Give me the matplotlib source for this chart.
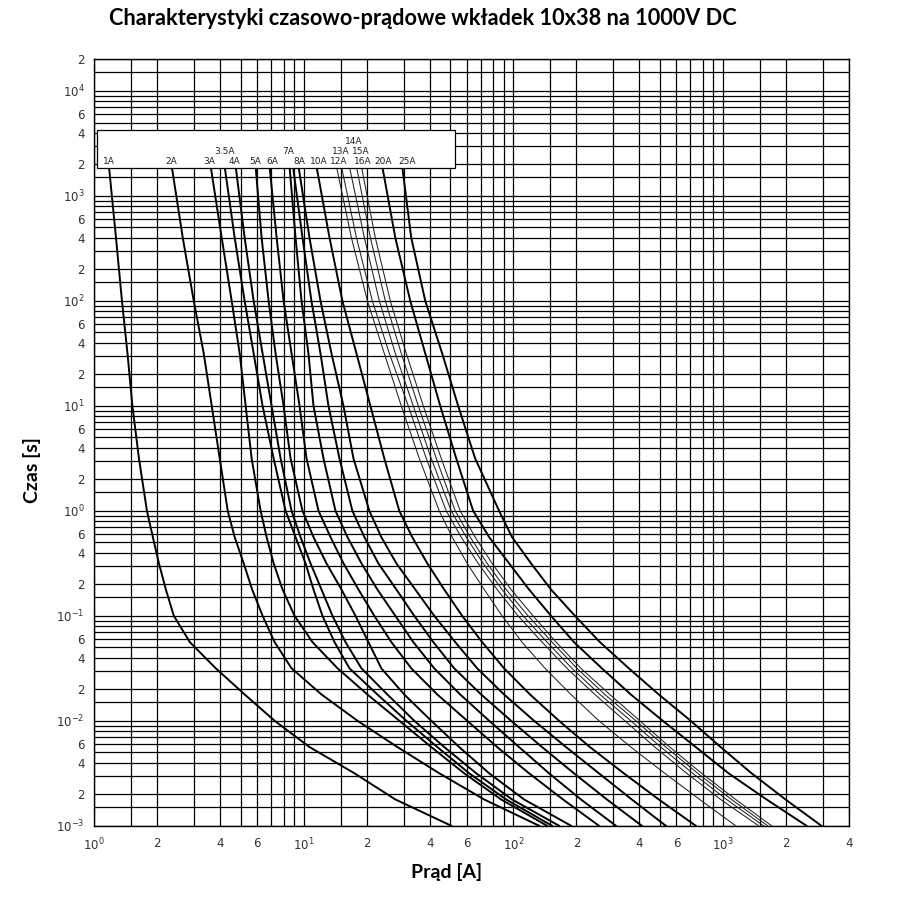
import matplotlib
matplotlib.use('Agg')
import matplotlib.pyplot as plt
from matplotlib.patches import Rectangle
import numpy as np

plt.rcParams['mathtext.fontset'] = 'dejavusans'

# czas zadzialania (s) - wspolne poziomy odczytu dla wszystkich krzywych
czas = [1900, 400, 100, 31.6, 10, 3.16, 1, 0.562, 0.316, 0.178, 0.1,
        0.0562, 0.0316, 0.0178, 0.01, 0.00562, 0.00316, 0.00178, 0.001]

i_1A = [1.175, 1.269, 1.355, 1.44, 1.52, 1.633, 1.783, 1.903, 2.034, 2.195, 2.396,
        2.855, 3.798, 5.218, 7.25, 10.64, 17.43, 27.33, 50.5]
i_2A = [2.343, 2.643, 2.983, 3.329, 3.634, 3.968, 4.333, 4.676, 5.163, 5.667, 6.355,
        7.25, 8.737, 12.14, 18.03, 27.94, 44.28, 72.5, 132.6]
i_3A = [3.595, 4.055, 4.525, 4.941, 5.277, 5.634, 6.22, 6.644, 7.175, 7.914, 9.028,
        10.99, 14.48, 20.11, 28.55, 40.55, 58.22, 87.37, 144.7]
i_3_5A = [4.19, 4.676, 5.218, 5.761, 6.355, 7.175, 8.182, 9.13, 10.19, 11.12, 12.27,
          14.0, 16.51, 22.44, 30.83, 43.33, 61.52, 92.35, 152.8]
i_4A = [4.729, 5.218, 5.761, 6.355, 7.017, 7.746, 8.737, 9.645, 10.76, 12.14, 13.7,
        15.8, 18.83, 25.04, 33.64, 46.76, 66.47, 98.55, 165.1]
i_5A = [5.888, 6.287, 6.791, 7.331, 8.006, 8.643, 9.855, 11.12, 12.82, 15.12, 17.63,
        20.33, 23.43, 30.15, 40.55, 55.13, 76.61, 112.5, 188.3]
i_6A = [6.866, 7.416, 8.006, 8.737, 9.54, 10.3, 11.75, 13.41, 15.46, 18.22, 21.7,
        26.15, 32.56, 43.33, 60.19, 83.65, 118.8, 172.5, 255.9]
i_7A = [8.549, 9.13, 9.75, 10.52, 11.12, 12.41, 14.16, 16.15, 18.83, 22.44, 27.33,
        33.29, 41.9, 55.74, 76.61, 106.4, 147.9, 210.0, 308.4]
i_7A_b = [8.88, 9.855, 10.87, 12.01, 13.11, 14.79, 17.05, 19.45, 22.68, 27.64, 33.64,
          41.47, 52.18, 70.17, 97.5, 137.0, 194.5, 279.4, 409.9]
i_8A = [9.438, 10.64, 12.01, 13.55, 15.46, 17.25, 20.55, 23.43, 27.64, 34.03, 41.9,
        52.76, 67.18, 90.28, 125.5, 178.3, 255.9, 367.3, 533.7]
i_10A = [11.5, 13.26, 15.28, 17.83, 20.78, 24.21, 28.55, 32.91, 38.83, 46.76, 56.95,
         70.92, 90.28, 120.1, 165.1, 231.8, 336.4, 494.1, 741.6]
i_12A = [14.32, 16.87, 20.11, 24.21, 29.18, 35.56, 44.28, 51.04, 60.19, 72.55, 88.31,
         109.9, 141.6, 188.3, 255.9, 363.4, 527.6, 774.5, 1150]
i_13A = [15.12, 17.83, 21.23, 25.59, 31.51, 38.4, 47.82, 56.34, 67.91, 83.65, 105.2,
         137.0, 180.2, 244.9, 340.3, 472.8, 671.8, 975, 1479]
i_14A = [16.51, 19.45, 22.93, 27.33, 33.29, 40.55, 50.5, 59.56, 71.73, 88.31, 111.2,
         144.7, 190.3, 258.7, 363.4, 505, 717.5, 1041, 1562]
i_15A = [17.83, 20.78, 24.49, 29.18, 35.17, 42.87, 52.76, 62.2, 74.96, 92.35, 117.5,
         152.8, 201.1, 273.3, 384.1, 533.7, 757.8, 1099, 1633]
i_16A = [18.83, 21.94, 25.87, 30.83, 37.16, 45.25, 55.74, 65.7, 79.14, 97.5, 124.1,
         159.8, 210.0, 288.6, 401.2, 557.4, 791.4, 1150, 1706]
i_20A = [23.69, 27.33, 32.21, 37.98, 44.77, 53.37, 64.29, 76.61, 95.4, 118.8, 151.2,
         194.5, 264.4, 363.4, 516.3, 741.6, 1064, 1615, 2504]
i_25A = [29.49, 32.56, 37.98, 45.74, 54.53, 65.7, 85.49, 98.55, 121.4, 151.2, 196.7,
         258.7, 355.6, 494.1, 701.7, 975, 1370, 1989, 2949]

# opis, prady, cienka linia
krzywe = [
    ('1A', i_1A, False), ('2A', i_2A, False), ('3A', i_3A, False),
    ('3.5A', i_3_5A, False), ('4A', i_4A, False), ('5A', i_5A, False),
    ('6A', i_6A, False), ('7A', i_7A, False), (None, i_7A_b, False),
    ('8A', i_8A, False), ('10A', i_10A, False), ('12A', i_12A, True),
    ('13A', i_13A, True), ('14A', i_14A, True), ('15A', i_15A, True),
    ('16A', i_16A, True), ('20A', i_20A, False), ('25A', i_25A, False),
]

# opisy w ramce: tekst, prad srodka napisu, wiersz
opisy = [('1A', 1.18, 0), ('2A', 2.33, 0), ('3A', 3.53, 0), ('3.5A', 4.19, 1),
         ('4A', 4.68, 0), ('5A', 5.83, 0), ('6A', 7.1, 0), ('7A', 8.46, 1),
         ('8A', 9.54, 0), ('10A', 11.76, 0), ('12A', 14.6, 0), ('13A', 15.07, 1),
         ('14A', 17.3, 2), ('15A', 18.8, 1), ('16A', 19.2, 0), ('20A', 23.8, 0),
         ('25A', 31.2, 0)]
wiersz_t = [2109, 2624, 3266]

fig = plt.figure(figsize=(8.97, 9.09), dpi=100)
ax = fig.add_axes([0.10513, 0.09164, 0.84136, 0.84312])
ax.set_xscale('log')
ax.set_yscale('log')
ax.set_xlim(1, 4000)
ax.set_ylim(1e-3, 2e4)

mult = [1, 1.5, 2, 3, 4, 5, 6, 7, 8, 9]
xgrid = [m * 10**k for k in range(0, 4) for m in mult if m * 10**k <= 4000]
ygrid = [m * 10**k for k in range(-3, 5) for m in mult if m * 10**k <= 2e4]

def lab(v):
    e = int(np.floor(np.log10(v) + 1e-9))
    m = v / 10**e
    if abs(m - 1) < 1e-6:
        return r'$10^{%d}$' % e
    if abs(m - round(m)) < 1e-6 and int(round(m)) in (2, 4, 6):
        return str(int(round(m)))
    return ''

ax.set_xticks(xgrid)
ax.set_xticklabels([lab(v) for v in xgrid])
ax.set_yticks(ygrid)
ax.set_yticklabels([lab(v) for v in ygrid])
ax.minorticks_off()
ax.tick_params(length=0, labelsize=8.5, labelcolor='#333333')
ax.tick_params(axis='x', pad=8)
ax.tick_params(axis='y', pad=7)
ax.grid(True, color='black', lw=0.9)
ax.set_axisbelow(True)
for s in ax.spines.values():
    s.set_color('black')
    s.set_linewidth(1.0)

for nazwa, prad, cienka in krzywe:
    if cienka:
        ax.plot(prad, czas, color='#222222', lw=0.75, zorder=3)
    else:
        ax.plot(prad, czas, color='black', lw=1.4, zorder=3)

# ramka z opisami
ax.add_patch(Rectangle((1.03, 1862), 52.6 - 1.03, 4227 - 1862, facecolor='white',
                       edgecolor='black', lw=0.9, zorder=5))
for tekst, x, w in opisy:
    ax.text(x, wiersz_t[w], tekst, ha='center', va='center',
            fontsize=6.5, color='#222222', zorder=6)

fig.text(0.471, 0.980, 'Charakterystyki czasowo-prądowe wkładek 10x38 na 1000V DC',
         ha='center', va='center', fontsize=15.7, fontweight='bold', family='Lato')
fig.text(0.498, 0.0407, 'Prąd [A]', ha='center', va='center', fontsize=14,
         fontweight='bold', family='Lato')
fig.text(0.0357, 0.483, 'Czas [s]', ha='center', va='center', rotation=90,
         fontsize=14, fontweight='bold', family='Lato')

fig.savefig('out.png', dpi=100)
